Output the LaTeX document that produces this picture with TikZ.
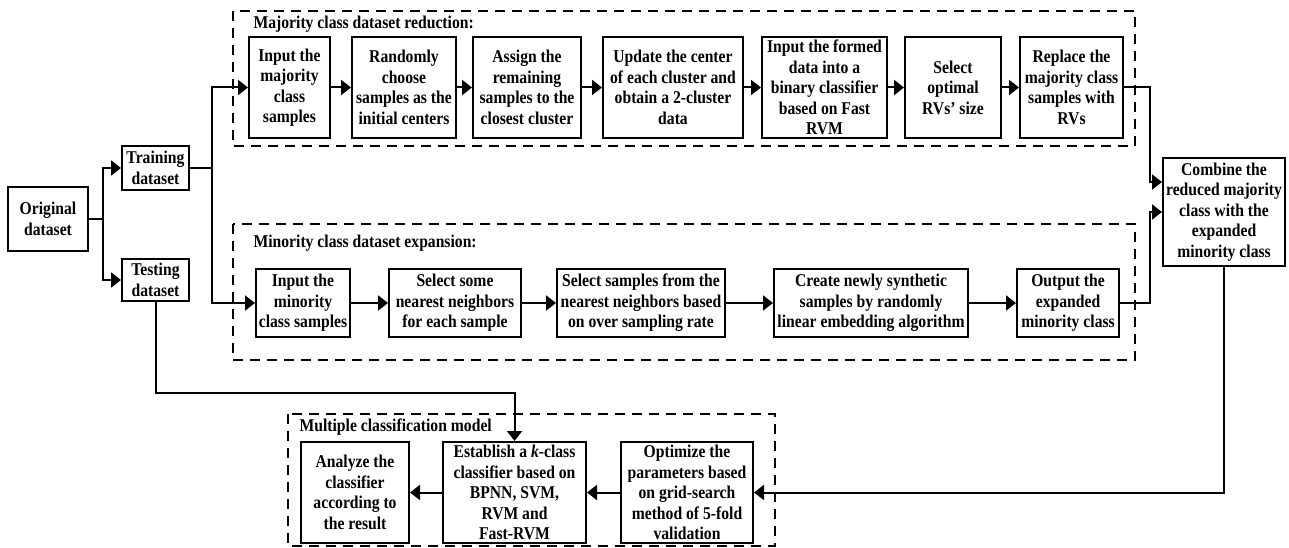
\documentclass[tikz,border=0pt]{standalone}
\usepackage{fontspec}
\setmainfont{Liberation Serif}[FakeStretch=0.87]
\usetikzlibrary{arrows.meta}

\begin{document}
\begin{tikzpicture}[x=1pt,y=-1pt,
        font=\bfseries\fontsize{18}{20.5}\selectfont,
        box/.style={draw, line width=2pt, align=center, inner sep=1pt},
        frame/.style={draw, line width=1.8pt, dash pattern=on 10pt off 7pt},
        arr/.style={line width=2pt, -{Triangle[length=10pt,width=15pt]}},
        wire/.style={line width=2pt}]
        \useasboundingbox (0,0) rectangle (1289,548);

        % Frames
        \draw[frame] (233,11) rectangle (1135,146);
        \draw[frame] (233,224) rectangle (1135,360);
        \draw[frame] (288,414) rectangle (775,546);

        % Frame titles
        \node[anchor=west] (tmaj) at (250,24) {Majority class dataset reduction:};
        \node[anchor=west] (tmin) at (250,243) {Minority class dataset expansion:};
        \node[anchor=west] (tmul) at (296,427) {Multiple classification model};

        % Datasets
        \node[box, minimum width=80pt, minimum height=64pt] (orig) at (48,219) {Original\\dataset};
        \node[box, minimum width=67pt, minimum height=44pt] (train) at (155.5,168) {Training\\dataset};
        \node[box, minimum width=67pt, minimum height=42pt] (test) at (155.5,280) {Testing\\dataset};

        % Majority class row
        \node[box, minimum width=81pt, minimum height=101pt] (maj1) at (289.5,87.5) {Input the\\majority\\class\\samples};
        \node[box, minimum width=104pt, minimum height=101pt] (maj2) at (404,87.5) {Randomly\\choose\\samples as the\\initial centers};
        \node[box, minimum width=108pt, minimum height=101pt] (maj3) at (527,87.5) {Assign the\\remaining\\samples to the\\closest cluster};
        \node[box, minimum width=140pt, minimum height=101pt] (maj4) at (673,87.5) {Update the center\\of each cluster and\\obtain a 2-cluster\\data};
        \node[box, minimum width=125pt, minimum height=101pt] (maj5) at (824.5,87.5) {Input the formed\\data into a\\binary classifier\\based on Fast\\RVM};
        \node[box, minimum width=96pt, minimum height=101pt] (maj6) at (953,87.5) {Select\\optimal\\RVs’ size};
        \node[box, minimum width=103pt, minimum height=101pt] (maj7) at (1071.5,87.5) {Replace the\\majority class\\samples with\\RVs};

        % Minority class row
        \node[box, minimum width=94pt, minimum height=68pt] (min1) at (303,303) {Input the\\minority\\class samples};
        \node[box, minimum width=132pt, minimum height=68pt] (min2) at (455,303) {Select some\\nearest neighbors\\for each sample};
        \node[box, minimum width=168pt, minimum height=68pt] (min3) at (641,303) {Select samples from the\\nearest neighbors based\\on over sampling rate};
        \node[box, minimum width=194pt, minimum height=68pt] (min4) at (871,303) {Create newly synthetic\\samples by randomly\\linear embedding algorithm};
        \node[box, minimum width=102pt, minimum height=68pt] (min5) at (1068,303) {Output the\\expanded\\minority class};

        % Combination
        \node[box, minimum width=122pt, minimum height=108pt] (comb) at (1224,212) {Combine the\\reduced majority\\class with the\\expanded\\minority class};

        % Classification row
        \node[box, minimum width=108pt, minimum height=101pt] (ana) at (355,492.5) {Analyze the\\classifier\\according to\\the result};
        \node[box, minimum width=143pt, minimum height=101pt] (est) at (514.5,492.5) {Establish a \textit{k}-class\\classifier based on\\BPNN, SVM,\\RVM and\\Fast-RVM};
        \node[box, minimum width=132pt, minimum height=101pt] (opt) at (687,492.5) {Optimize the\\parameters based\\on grid-search\\method of 5-fold\\validation};

        % Splitting the data
        \coordinate (jA) at (103,219);
        \coordinate (jB) at (212,168);
        \draw[wire] (orig.east) -- (jA);
        \draw[arr] (jA) |- (train.west);
        \draw[arr] (jA) |- (test.west);
        \draw[wire] (train.east) -- (jB);
        \draw[arr] (jB) |- (maj1.west);
        \draw[arr] (jB) |- (min1.west);

        % Chains
        \foreach \a/\b in {maj1/maj2, maj2/maj3, maj3/maj4, maj4/maj5, maj5/maj6, maj6/maj7,
                           min1/min2, min2/min3, min3/min4, min4/min5, opt/est, est/ana}
            \draw[arr] (\a) -- (\b);

        % Into and out of the combination
        \draw[arr] (maj7.east) -- ++(26,0) |- ([yshift=30pt]comb.west);
        \draw[arr] (min5.east) -- ++(30,0) |- (comb.west);
        \draw[arr] (comb.south) |- (opt.east);
        \draw[arr] (test.south) -- ++(0,91) -| (est.north);
\end{tikzpicture}
\end{document}
